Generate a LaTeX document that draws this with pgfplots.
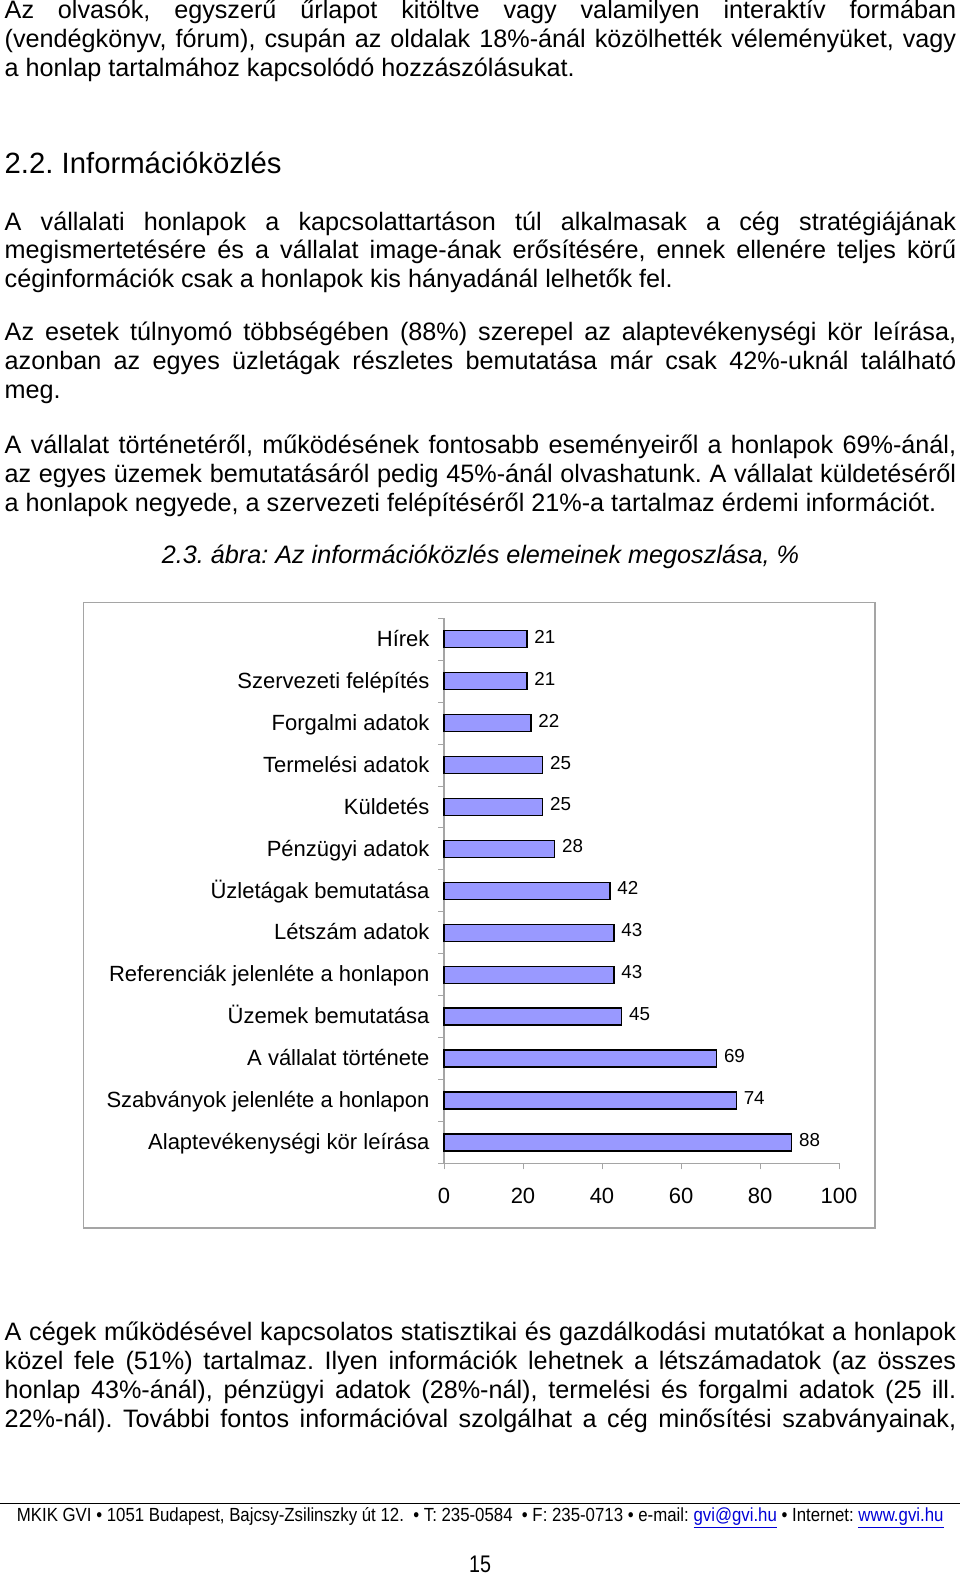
\documentclass[border=0pt]{standalone}
\usepackage{fontspec}
\setmainfont{Liberation Sans}
\newfontfamily\narrowfont{Liberation Sans}[FakeStretch=0.82]
\usepackage{graphicx}
\usepackage{pgfplots}
\pgfplotsset{compat=1.18}
\definecolor{barfill}{RGB}{153,153,255}
\definecolor{axgray}{RGB}{165,165,165}
\definecolor{linkblue}{RGB}{0,0,215}
\frenchspacing
\newcommand\body{\fontsize{25.2pt}{29pt}\selectfont}
\newcommand\JL[2]{\node[anchor=base west,inner sep=0pt,font=\body] at (4.5pt,-#1pt) {\hbox to 951.5pt{#2}};}
\newcommand\LL[2]{\node[anchor=base west,inner sep=0pt,font=\body] at (4.5pt,-#1pt) {#2};}
\begin{document}
\begin{tikzpicture}
\path[use as bounding box] (0pt,0pt) rectangle (960pt,-1577pt);
% paragraph 1
\JL{18.5}{Az olvasók, egyszerű űrlapot kitöltve vagy valamilyen interaktív formában}
\JL{47.5}{(vendégkönyv, fórum), csupán az oldalak 18\%-ánál közölhették véleményüket, vagy}
\LL{76.5}{a honlap tartalmához kapcsolódó hozzászólásukat.}
% heading
\node[anchor=base west,inner sep=0pt,font=\fontsize{29.3pt}{34pt}\selectfont] at (4.5pt,-173.3pt) {2.2. Információközlés};
% paragraph 2
\JL{230}{A vállalati honlapok a kapcsolattartáson túl alkalmasak a cég stratégiájának}
\JL{258.8}{megismertetésére és a vállalat image-ának erősítésére, ennek ellenére teljes körű}
\LL{287.5}{céginformációk csak a honlapok kis hányadánál lelhetők fel.}
% paragraph 3
\JL{340.5}{Az esetek túlnyomó többségében (88\%) szerepel az alaptevékenységi kör leírása,}
\JL{369.3}{azonban az egyes üzletágak részletes bemutatása már csak 42\%-uknál található}
\LL{398}{meg.}
% paragraph 4
\JL{453.8}{A vállalat történetéről, működésének fontosabb eseményeiről a honlapok 69\%-ánál,}
\JL{482.6}{az egyes üzemek bemutatásáról pedig 45\%-ánál olvashatunk. A vállalat küldetéséről}
\LL{511.4}{a honlapok negyede, a szervezeti felépítéséről 21\%-a tartalmaz érdemi információt.}
% caption
\node[anchor=base,inner sep=0pt,font=\body\itshape] at (480.5pt,-563.3pt) {2.3. ábra: Az információközlés elemeinek megoszlása, \%};
% chart frame
\draw[axgray, line width=1.5pt] (83.3pt,-602.3pt) rectangle (875pt,-1228pt);
\begin{axis}[
  at={(444pt,-1163.3pt)}, anchor=south west,
  scale only axis, width=395pt, height=545pt,
  xmin=0, xmax=100, ymin=0.5, ymax=13.5,
  xbar, bar width=17pt, bar shift=0pt,
  axis x line*=bottom, axis y line*=left,
  axis line style={draw=axgray, line width=1.2pt},
  tick align=outside,
  major tick length=6pt, minor tick length=6pt,
  xtick={0,20,40,60,80,100},
  ytick={1,2,3,4,5,6,7,8,9,10,11,12,13},
  yticklabels={Alaptevékenységi kör leírása, Szabványok jelenléte a honlapon, A vállalat története, Üzemek bemutatása, Referenciák jelenléte a honlapon, Létszám adatok, Üzletágak bemutatása, Pénzügyi adatok, Küldetés, Termelési adatok, Forgalmi adatok, Szervezeti felépítés, Hírek},
  minor ytick={0.5,1.5,2.5,3.5,4.5,5.5,6.5,7.5,8.5,9.5,10.5,11.5,12.5,13.5},
  major y tick style={draw=none},
  minor y tick style={draw=axgray, line width=1pt},
  major x tick style={draw=axgray, line width=1pt},
  ticklabel style={font=\fontsize{22pt}{22pt}\selectfont},
  yticklabel style={text height=16pt, text depth=1.5pt, xshift=-5pt},
  xticklabel style={yshift=-15pt},
  /pgf/number format/assume math mode=true,
  nodes near coords,
  nodes near coords style={font=\fontsize{18.8pt}{19pt}\selectfont, anchor=west, xshift=3.5pt, yshift=2.5pt},
  clip=false,
]
\addplot[fill=barfill, draw=black, line width=1.3pt] coordinates {
(88,1) (74,2) (69,3) (45,4) (43,5) (43,6) (42,7) (28,8) (25,9) (25,10) (22,11) (21,12) (21,13)};
\end{axis}
% last paragraph
\JL{1340}{A cégek működésével kapcsolatos statisztikai és gazdálkodási mutatókat a honlapok}
\JL{1369}{közel fele (51\%) tartalmaz. Ilyen információk lehetnek a létszámadatok (az összes}
\JL{1398}{honlap 43\%-ánál), pénzügyi adatok (28\%-nál), termelési és forgalmi adatok (25 ill.}
\JL{1427}{22\%-nál). További fontos információval szolgálhat a cég minősítési szabványainak,}
% footer
\draw[black, line width=1.3pt] (0pt,-1503.3pt) -- (960pt,-1503.3pt);
\node[anchor=base west,inner sep=0pt] at (16.7pt,-1521.7pt) {\resizebox{926.6pt}{\height}{\narrowfont\fontsize{19pt}{22pt}\selectfont MKIK GVI • 1051 Budapest, Bajcsy-Zsilinszky út 12. \ • T: 235-0584 \ • F: 235-0713 • e-mail: \textcolor{linkblue}{\underline{gvi@gvi.hu}} • Internet: \textcolor{linkblue}{\underline{www.gvi.hu}}}};
\node[anchor=base,inner sep=0pt,font=\narrowfont\fontsize{24pt}{26pt}\selectfont] at (480pt,-1572pt) {15};
\end{tikzpicture}
\end{document}
